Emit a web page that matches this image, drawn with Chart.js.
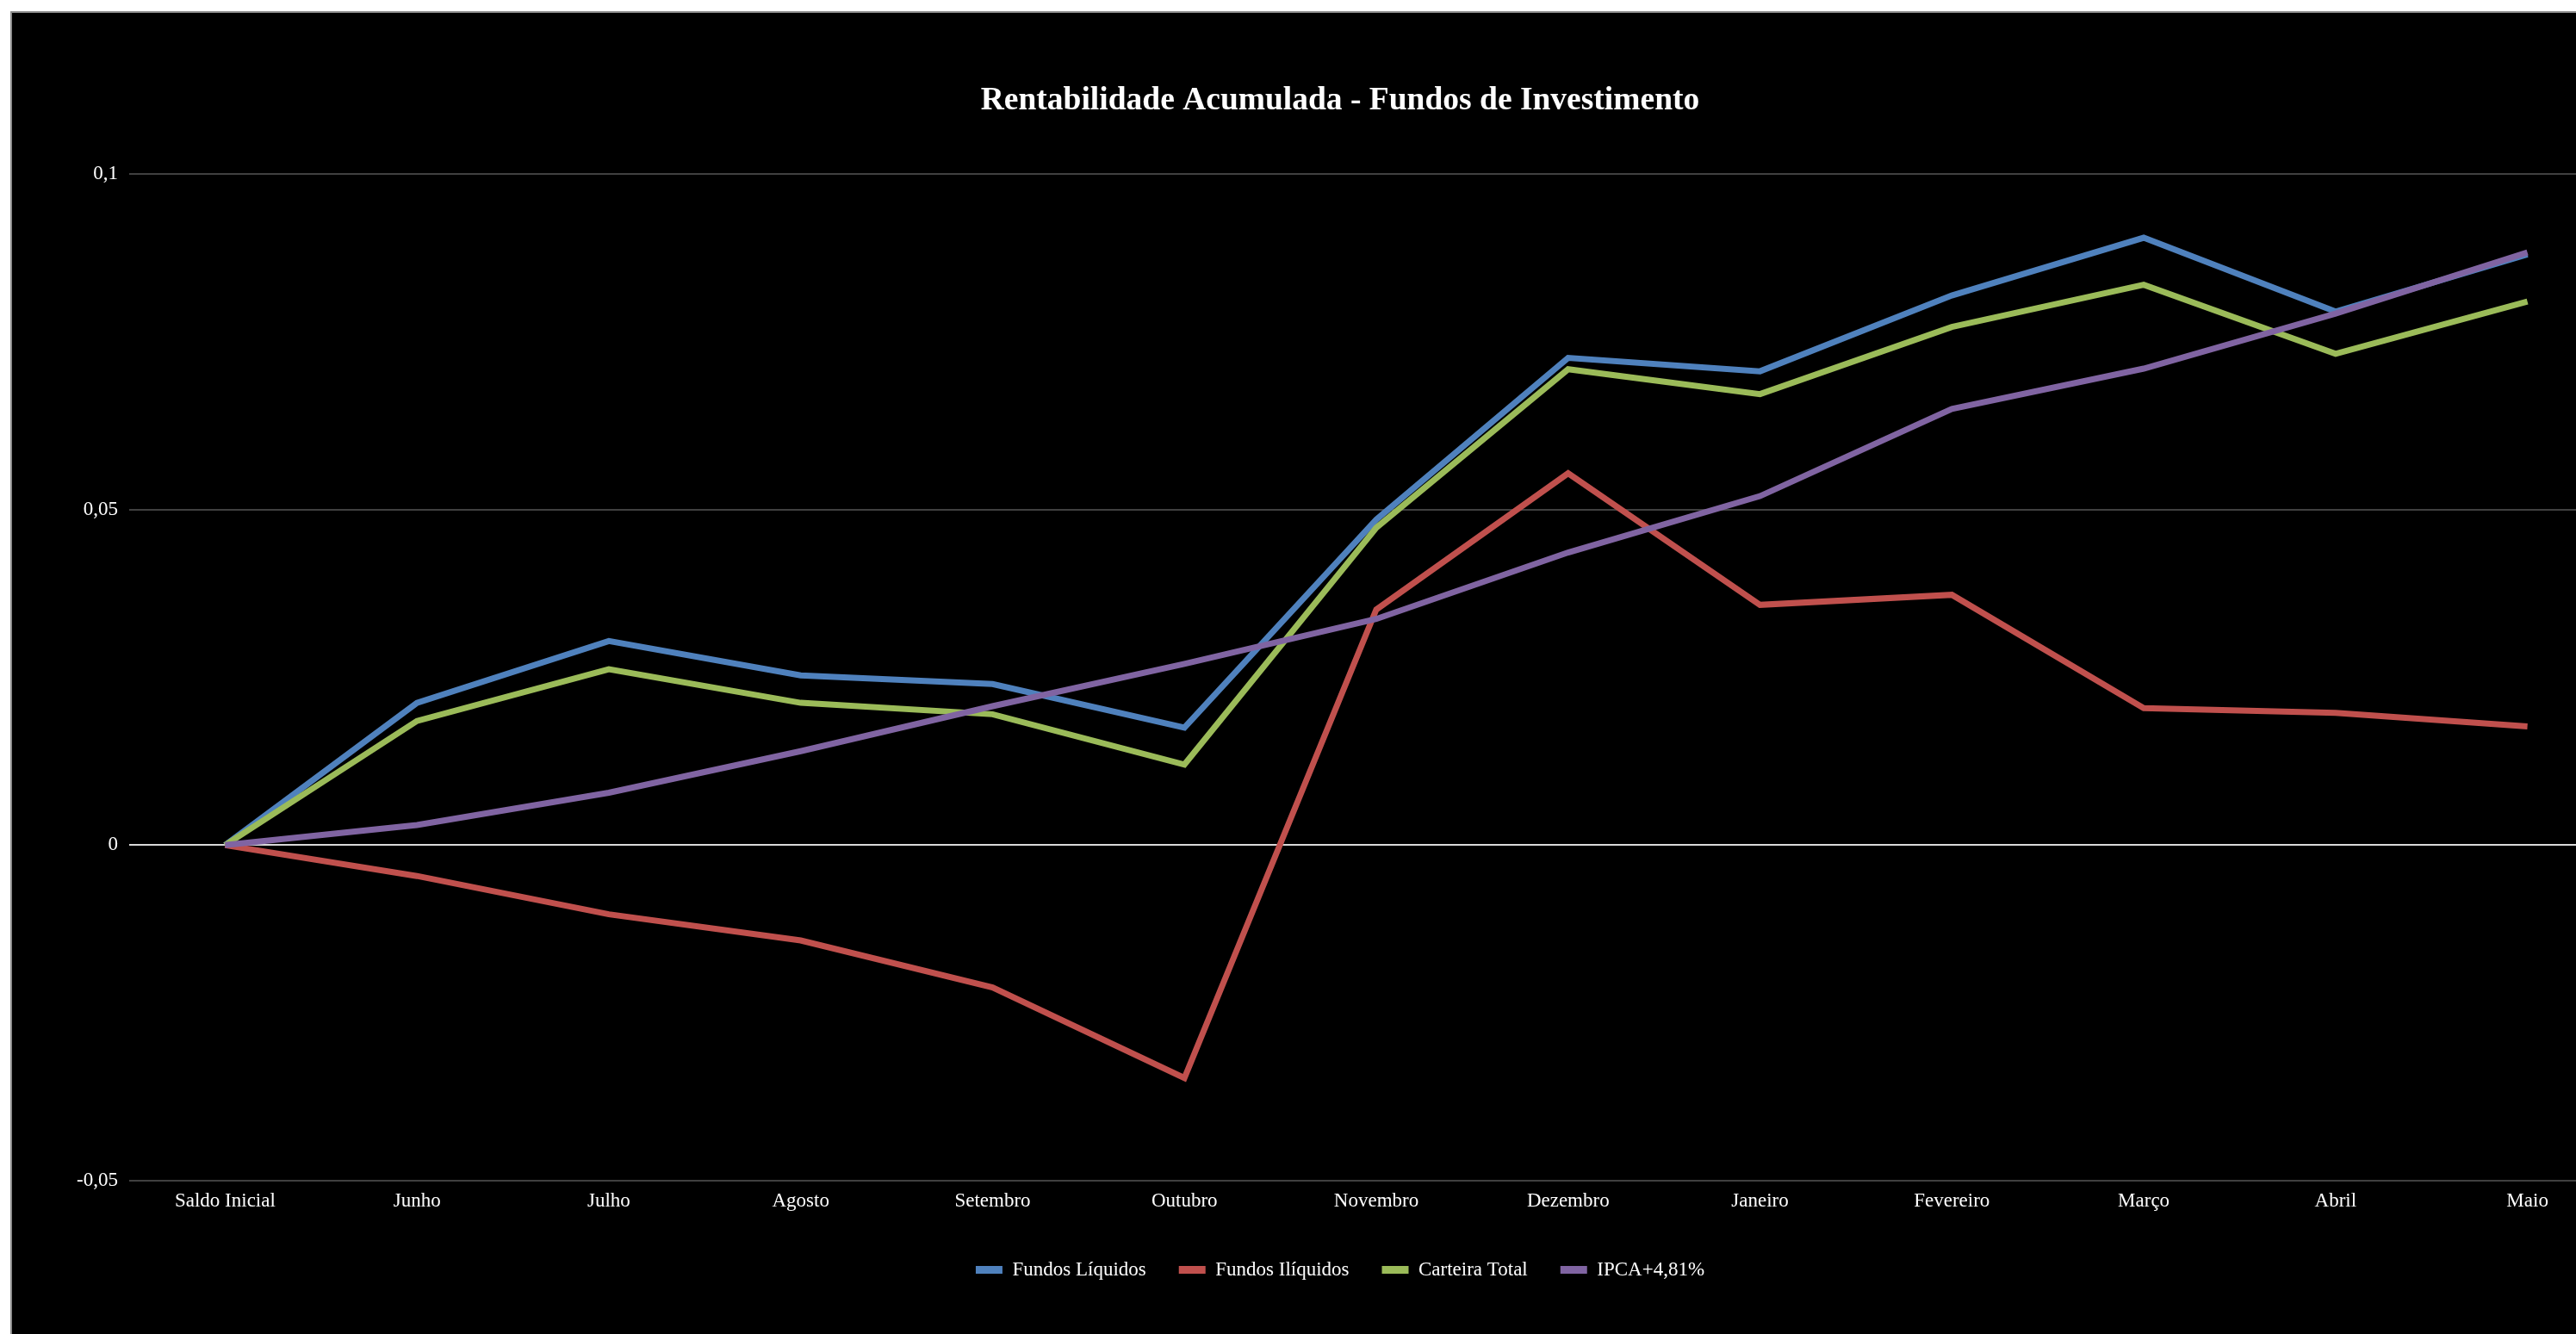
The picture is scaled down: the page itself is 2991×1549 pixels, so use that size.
<!DOCTYPE html>
<html>
<head>
<meta charset="utf-8">
<script src="https://cdn.jsdelivr.net/npm/chart.js@4.4.0/dist/chart.umd.min.js"></script>
<style>
  html, body { margin: 0; padding: 0; background: #fff; overflow: hidden; width: 2991px; height: 1549px; }
  #wrap {
    position: absolute; left: 12px; top: 13px;
    width: 3084px; height: 1560px;
    background: #000;
    border-left: 2px solid #8c8c8c; border-top: 2px solid #8c8c8c;
  }
</style>
</head>
<body>
<div id="wrap"><canvas id="myChart"></canvas></div>
<script>
// months of the period
const meses = ['Saldo Inicial', 'Junho', 'Julho', 'Agosto', 'Setembro', 'Outubro', 'Novembro',
               'Dezembro', 'Janeiro', 'Fevereiro', 'Março', 'Abril', 'Maio'];

const fundosLiquidos  = [0, 0.0212, 0.0304, 0.0253, 0.0240, 0.0175, 0.0485, 0.0726, 0.0706, 0.0819, 0.0905, 0.0795, 0.0880];
const fundosIliquidos = [0, -0.0046, -0.0103, -0.0142, -0.0212, -0.0347, 0.0351, 0.0554, 0.0358, 0.0373, 0.0204, 0.0197, 0.0177];
const carteiraTotal   = [0, 0.0185, 0.0262, 0.0212, 0.0195, 0.0120, 0.0473, 0.0709, 0.0672, 0.0772, 0.0835, 0.0732, 0.0810];
const ipca            = [0, 0.0030, 0.0078, 0.0140, 0.0207, 0.0270, 0.0337, 0.0436, 0.0520, 0.0650, 0.0710, 0.0792, 0.0883];

const yTicks = { min: -0.05, max: 0.1, step: 0.05 };

const serif = "'Liberation Serif', 'Times New Roman', serif";

function serie(label, data, color, order) {
    return {
        label: label,
        data: data,
        borderColor: color,
        backgroundColor: color,
        borderWidth: 7,
        pointRadius: 0,
        tension: 0,
        order: order
    };
}

const ctx = document.getElementById('myChart');

new Chart(ctx, {
    type: 'line',
    data: {
        labels: meses,
        datasets: [
            serie('Fundos Líquidos', fundosLiquidos, '#4f81bd', 4),
            serie('Fundos Ilíquidos', fundosIliquidos, '#c0504d', 3),
            serie('Carteira Total', carteiraTotal, '#9bbb59', 2),
            serie('IPCA+4,81%', ipca, '#8064a2', 1)
        ]
    },
    options: {
        responsive: true,
        maintainAspectRatio: false,
        animation: false,
        // the chart runs past the bottom of the window, as in the original
        layout: { padding: { left: 0, right: 0, top: 0, bottom: 79 } },
        plugins: {
            title: {
                display: true,
                text: 'Rentabilidade Acumulada - Fundos de Investimento',
                color: '#ffffff',
                font: { family: serif, size: 37.5, weight: 'bold' },
                padding: { top: 80, bottom: 62 }
            },
            legend: {
                position: 'bottom',
                labels: {
                    color: '#ffffff',
                    font: { family: serif, size: 23 },
                    boxWidth: 31,
                    boxHeight: 9,
                    padding: 38,
                    sort: (a, b) => a.datasetIndex - b.datasetIndex,
                    generateLabels: function (chart) {
                        return chart.data.datasets.map(function (ds, i) {
                            return {
                                text: ds.label,
                                fillStyle: ds.borderColor,
                                strokeStyle: ds.borderColor,
                                lineWidth: 0,
                                fontColor: '#ffffff',
                                datasetIndex: i
                            };
                        });
                    }
                }
            },
            tooltip: { enabled: false }
        },
        scales: {
            x: {
                offset: true,
                grid: { display: false, drawTicks: false },
                border: { display: false },
                ticks: {
                    color: '#ffffff',
                    font: { family: serif, size: 23 },
                    padding: 10,
                    maxRotation: 0,
                    autoSkip: false
                },
                afterFit: function (scale) { scale.height = 54; }
            },
            y: {
                min: yTicks.min,
                max: yTicks.max,
                grid: {
                    drawTicks: false,
                    lineWidth: 2,
                    color: function (c) {
                        return Math.abs(c.tick.value) < 1e-9 ? '#d9d9d9' : '#404040';
                    }
                },
                border: { display: false },
                ticks: {
                    stepSize: yTicks.step,
                    color: '#ffffff',
                    font: { family: serif, size: 23 },
                    padding: 13,
                    callback: function (value) {
                        return (Math.round(value * 100) / 100).toString().replace('.', ',');
                    }
                },
                afterFit: function (scale) { scale.width = 136; }
            },
            // empty right-hand space, keeps the plot where the original had it
            yRight: {
                position: 'right',
                min: yTicks.min,
                max: yTicks.max,
                grid: { display: false, drawTicks: false },
                border: { display: false },
                ticks: { display: false },
                afterFit: function (scale) { scale.width = 52; }
            }
        }
    }
});
</script>
</body>
</html>
